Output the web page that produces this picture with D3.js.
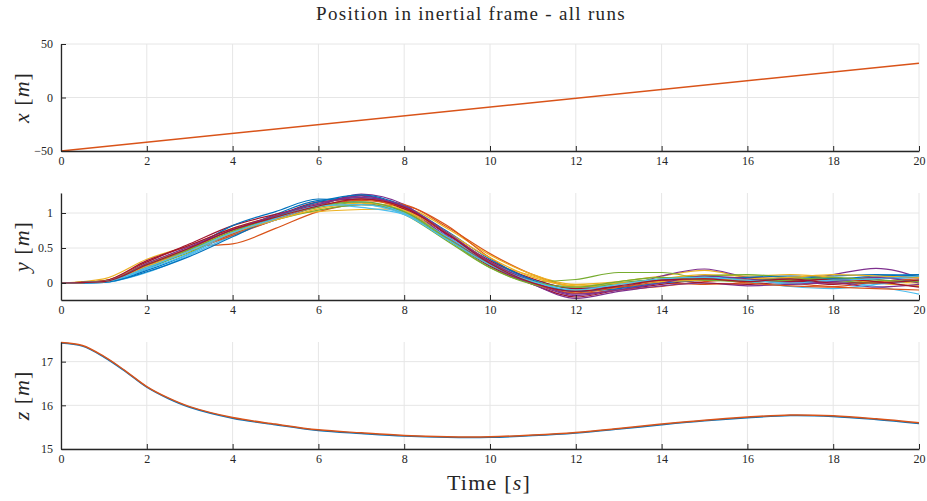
<html>
  <head>
    <meta charset="utf-8">
    <script src="https://d3js.org/d3.v7.min.js"></script>
    <style>
      body { margin: 0; background: #fff; }
      text { font-family: "Liberation Serif", "DejaVu Serif", serif; fill: #262626; }
    </style>
  </head>
  <body>
    <script type="text/javascript">
      // time axis shared by the runs
      var times = [0,1,2,3,4,5,6,7,8,9,10,11,12,13,14,15,16,17,18,19,20];
      var xTicks = [0,2,4,6,8,10,12,14,16,18,20];

      // x position (every run identical)
      var xTime = [0, 20];
      var xPos = [-50, 32];

      // y position, one array per run
      var yRuns = [
        [0,0.01,0.18,0.42,0.72,0.98,1.18,1.22,1.08,0.70,0.30,0.05,-0.08,0.00,0.05,0.06,0.04,0.02,0.03,0.06,0.08],
        [0,0.03,0.30,0.52,0.56,0.78,1.02,1.12,1.10,0.80,0.42,0.12,-0.05,-0.06,0.00,-0.02,0.00,0.04,0.02,0.00,-0.05],
        [0,0.06,0.34,0.54,0.78,0.95,1.02,1.05,1.06,0.78,0.40,0.12,-0.02,0.02,0.10,0.18,0.08,0.05,0.06,0.02,0.00],
        [0,0.02,0.22,0.46,0.70,0.90,1.10,1.27,1.12,0.68,0.25,0.00,-0.18,-0.08,0.10,0.20,0.08,0.02,0.12,0.21,0.08],
        [0,0.03,0.26,0.50,0.75,0.92,1.08,1.15,0.98,0.60,0.22,0.02,0.05,0.15,0.15,0.06,0.04,0.06,0.05,0.08,0.10],
        [0,0.01,0.15,0.40,0.68,0.95,1.12,1.08,0.98,0.62,0.25,0.00,-0.05,0.00,0.02,0.05,0.06,-0.02,0.02,-0.05,-0.16],
        [0,0.02,0.30,0.56,0.82,0.98,1.12,1.25,1.05,0.64,0.24,-0.02,-0.20,-0.10,-0.02,0.05,0.08,0.04,-0.02,0.05,0.12],
        [0,0.02,0.20,0.48,0.82,1.02,1.20,1.15,1.02,0.66,0.28,0.00,-0.12,-0.05,0.05,0.10,0.05,0.08,0.10,0.12,0.10],
        [0,0.02,0.24,0.46,0.68,0.90,1.10,1.20,1.12,0.82,0.36,0.02,-0.15,-0.10,-0.05,0.02,0.05,0.00,-0.05,0.02,0.06],
        [0,0.03,0.28,0.50,0.74,0.96,1.14,1.20,1.04,0.66,0.30,0.10,-0.06,-0.02,0.06,0.12,0.10,0.12,0.08,0.00,-0.04],
        [0,0.02,0.24,0.50,0.76,0.94,1.12,1.24,1.08,0.66,0.26,-0.02,-0.22,-0.12,-0.04,0.00,-0.04,-0.02,0.00,-0.06,-0.02],
        [0,0.02,0.22,0.44,0.72,0.90,1.04,1.12,1.00,0.62,0.22,-0.02,-0.10,0.00,0.06,0.10,0.12,0.08,0.04,0.00,0.04],
        [0,0.01,0.20,0.42,0.72,0.90,1.10,1.16,1.00,0.66,0.30,0.04,-0.08,-0.04,0.00,0.08,0.02,-0.05,-0.08,-0.02,0.04],
        [0,0.03,0.32,0.54,0.78,0.96,1.16,1.20,1.06,0.70,0.32,0.06,-0.08,-0.06,0.04,0.00,-0.02,0.02,0.06,0.02,-0.06],
        [0,0.01,0.16,0.38,0.66,0.94,1.16,1.26,1.10,0.74,0.34,0.04,-0.12,-0.08,0.00,0.04,0.08,0.10,0.06,0.10,0.12],
        [0,0.02,0.26,0.48,0.70,0.92,1.10,1.18,1.08,0.72,0.30,0.00,-0.14,-0.06,0.02,0.06,0.00,-0.04,-0.06,-0.08,-0.10],
        [0,0.02,0.24,0.46,0.72,0.90,1.06,1.14,1.04,0.72,0.36,0.08,-0.04,0.00,0.02,0.04,0.06,0.08,0.12,0.10,0.08],
        [0,0.02,0.28,0.52,0.76,0.96,1.14,1.22,1.10,0.72,0.30,0.02,-0.16,-0.10,0.00,0.10,0.06,0.00,0.02,0.08,0.00],
        [0,0.02,0.26,0.48,0.74,0.94,1.10,1.16,1.02,0.64,0.26,0.02,-0.06,0.02,0.08,0.04,0.02,0.04,0.08,0.04,0.02],
        [0,0.02,0.22,0.46,0.72,0.92,1.10,1.12,0.98,0.62,0.26,0.02,-0.10,-0.02,0.06,0.08,0.04,0.00,0.04,0.06,0.10],
        [0,0.02,0.26,0.50,0.76,0.94,1.10,1.20,1.08,0.70,0.28,0.00,-0.12,-0.04,0.04,0.06,0.02,0.06,0.00,0.00,0.04]
      ];

      // z position (runs overlap)
      var zTime = [0,0.5,1,1.5,2,2.5,3,4,5,6,7,8,9,10,11,12,13,14,15,16,17,18,19,20];
      var zPos = [17.44,17.37,17.12,16.79,16.43,16.17,15.97,15.72,15.57,15.44,15.37,15.31,15.28,15.28,15.32,15.38,15.47,15.57,15.66,15.73,15.78,15.76,15.69,15.60];

      var colors = ["#0072BD","#D95319","#EDB120","#7E2F8E","#77AC30","#4DBEEE","#A2142F"];

      var width = 927, height = 501;
      var left = 61, right = 919;

      var svg = d3.select("body").append("svg")
          .attr("width", width)
          .attr("height", height);

      var x = d3.scaleLinear().domain([0, 20]).range([left, right]);

      var panels = [
        {top: 44, bottom: 151, domain: [-50, 50], ticks: [-50, 0, 50], label: "x"},
        {top: 193, bottom: 300, domain: [-0.243, 1.286], ticks: [0, 0.5, 1], label: "y"},
        {top: 342, bottom: 449, domain: [15, 17.45], ticks: [15, 16, 17], label: "z"}
      ];

      panels.forEach(function(p) {
        p.y = d3.scaleLinear().domain(p.domain).range([p.bottom, p.top]);
        var g = svg.append("g");

        // grid
        g.selectAll(".vg").data(xTicks).enter().append("line")
          .attr("x1", function(d) { return x(d); }).attr("x2", function(d) { return x(d); })
          .attr("y1", p.top).attr("y2", p.bottom)
          .attr("stroke", "#e6e6e6").attr("stroke-width", 1);
        g.selectAll(".hg").data(p.ticks).enter().append("line")
          .attr("x1", left).attr("x2", right)
          .attr("y1", function(d) { return p.y(d); }).attr("y2", function(d) { return p.y(d); })
          .attr("stroke", "#e6e6e6").attr("stroke-width", 1);

        p.g = g;
      });

      // lines
      var lineX = d3.line()
        .x(function(d, i) { return x(xTime[i]); })
        .y(function(d) { return panels[0].y(d); });
      panels[0].g.append("path").datum(xPos)
        .attr("d", lineX).attr("fill", "none")
        .attr("stroke", "#D95319").attr("stroke-width", 1.5);

      var lineY = d3.line()
        .curve(d3.curveMonotoneX)
        .x(function(d, i) { return x(times[i]); })
        .y(function(d) { return panels[1].y(d); });
      panels[1].g.selectAll(".run").data(yRuns).enter().append("path")
        .attr("d", lineY).attr("fill", "none")
        .attr("stroke", function(d, i) { return colors[i % 7]; })
        .attr("stroke-width", 1.2);

      var lineZ = d3.line()
        .curve(d3.curveCatmullRom)
        .x(function(d, i) { return x(zTime[i]); })
        .y(function(d) { return panels[2].y(d); });
      ["#0072BD", "#D95319"].forEach(function(c, k) {
        panels[2].g.append("path").datum(zPos)
          .attr("d", lineZ).attr("fill", "none")
          .attr("transform", "translate(0," + (k === 0 ? 0.6 : 0) + ")")
          .attr("stroke", c).attr("stroke-width", 1.5);
      });

      // axes
      panels.forEach(function(p) {
        var xa = p.g.append("g")
          .attr("transform", "translate(0," + p.bottom + ")")
          .call(d3.axisBottom(x).tickValues(xTicks).tickSizeInner(-5).tickSizeOuter(0).tickPadding(5));
        var ya = p.g.append("g")
          .attr("transform", "translate(" + left + ",0)")
          .call(d3.axisLeft(p.y).tickValues(p.ticks).tickFormat(d3.format("")).tickSizeInner(-5).tickSizeOuter(0).tickPadding(8));
        [xa, ya].forEach(function(a) {
          a.select(".domain").attr("stroke", "#262626").attr("stroke-width", 1.3);
          a.selectAll(".tick line").attr("stroke", "#262626").attr("stroke-width", 1);
          a.selectAll(".tick text").style("font-family", "Liberation Serif, serif")
            .style("font-size", "12px").attr("fill", "#262626");
        });

        var lab = svg.append("text")
          .attr("transform", "translate(29," + ((p.top + p.bottom) / 2) + ") rotate(-90)")
          .attr("text-anchor", "middle")
          .style("font-size", "22px")
          .style("letter-spacing", "1px");
        lab.append("tspan").style("font-style", "italic").text(p.label);
        lab.append("tspan").text(" [");
        lab.append("tspan").style("font-style", "italic").text("m");
        lab.append("tspan").text("]");
      });

      svg.append("text")
        .attr("x", 471).attr("y", 20)
        .attr("text-anchor", "middle")
        .style("font-size", "19px")
        .style("letter-spacing", "1.3px")
        .text("Position in inertial frame - all runs");

      var tl = svg.append("text")
        .attr("x", 489).attr("y", 490)
        .attr("text-anchor", "middle")
        .style("font-size", "22px")
        .style("letter-spacing", "1.2px");
      tl.append("tspan").text("Time [");
      tl.append("tspan").style("font-style", "italic").text("s");
      tl.append("tspan").text("]");
    </script>
  </body>
</html>
